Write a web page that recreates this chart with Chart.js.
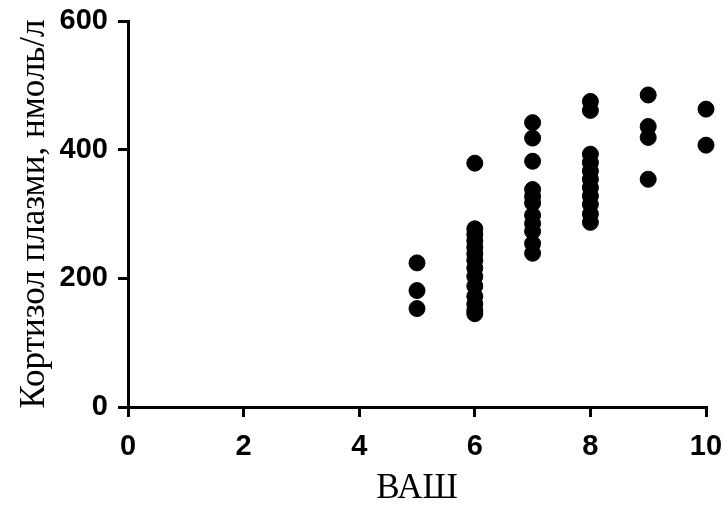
<!DOCTYPE html>
<html>
<head>
<meta charset="utf-8">
<script src="https://cdn.jsdelivr.net/npm/chart.js@4"></script>
<style>
  html, body { margin: 0; padding: 0; background: #fff; }
  #wrap { width: 726px; height: 510px; }
</style>
</head>
<body>
<div id="wrap"><canvas id="chart"></canvas></div>
<script>
// ВАШ score per patient (x) and plasma cortisol, nmol/l (y)
const vasScores = [
  5, 5, 5,
  6, 6, 6, 6, 6, 6, 6, 6, 6, 6, 6, 6, 6, 6,
  7, 7, 7, 7, 7, 7, 7, 7, 7, 7, 7,
  8, 8, 8, 8, 8, 8, 8, 8, 8, 8, 8,
  9, 9, 9, 9,
  10, 10,
];
const cortisol = [
  224, 181, 153,
  379, 277, 268, 258, 248, 238, 228, 216, 203, 188, 172, 160, 150, 145,
  442, 418, 382, 338, 327, 317, 298, 285, 273, 254, 239,
  475, 461, 393, 380, 367, 354, 341, 328, 315, 300, 287,
  485, 436, 419, 354,
  463, 407,
];
const xTicks = [0, 2, 4, 6, 8, 10];
const yTicks = [0, 200, 400, 600];

const points = vasScores.map((v, i) => ({ x: v, y: cortisol[i] }));

const tickFont = { family: 'Liberation Sans, Arial, sans-serif', size: 29, weight: 'bold' };
const titleFont = { family: 'Liberation Serif, Times New Roman, serif', size: 35 };

new Chart(document.getElementById('chart'), {
  type: 'scatter',
  data: {
    datasets: [{
      data: points,
      backgroundColor: '#000',
      borderColor: '#000',
      pointRadius: 8,
      pointHoverRadius: 8,
      clip: false,
    }],
  },
  options: {
    responsive: true,
    maintainAspectRatio: false,
    animation: false,
    layout: { padding: { top: 21, right: 20, left: 0, bottom: 0 } },
    plugins: {
      legend: { display: false },
      tooltip: { enabled: false },
    },
    scales: {
      x: {
        type: 'linear',
        min: 0,
        max: 10,
        afterBuildTicks: (axis) => { axis.ticks = xTicks.map((v) => ({ value: v })); },
        afterFit: (axis) => {
          axis.height = 103;
          axis.paddingLeft = 0;
          axis.paddingRight = 0;
        },
        border: { color: '#000', width: 3 },
        grid: { drawOnChartArea: false, drawTicks: true, tickLength: 10, color: '#000', lineWidth: 3 },
        ticks: { color: '#000', font: tickFont, padding: 13, maxRotation: 0 },
        title: {
          display: true,
          text: 'ВАШ',
          color: '#000',
          font: titleFont,
          padding: { top: 0, bottom: 0 },
        },
      },
      y: {
        min: 0,
        max: 600,
        afterBuildTicks: (axis) => { axis.ticks = yTicks.map((v) => ({ value: v })); },
        afterFit: (axis) => {
          axis.width = 128;
          axis.paddingTop = 0;
          axis.paddingBottom = 0;
        },
        border: { color: '#000', width: 3 },
        grid: { drawOnChartArea: false, drawTicks: true, tickLength: 10, color: '#000', lineWidth: 3 },
        ticks: { color: '#000', font: tickFont, padding: 10 },
        title: {
          display: true,
          text: 'Кортизол плазми, нмоль/л',
          color: '#000',
          font: titleFont,
          padding: { top: 14, bottom: 0 },
        },
      },
    },
  },
});
</script>
</body>
</html>
